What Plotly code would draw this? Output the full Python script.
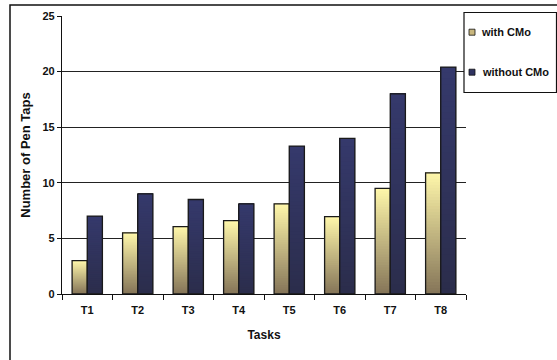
import plotly.graph_objects as go

tasks = ["T1", "T2", "T3", "T4", "T5", "T6", "T7", "T8"]
with_cmo = [3.0, 5.5, 6.05, 6.6, 8.1, 6.95, 9.5, 10.9]
without_cmo = [7.0, 9.0, 8.5, 8.1, 13.3, 14.0, 18.0, 20.4]
series_names = ["with CMo", "without CMo"]
y_ticks = [0, 5, 10, 15, 20, 25]

N = 40
FONT = "Liberation Sans, Arial, sans-serif"

# plot area in pixels
L, T, W, H = 62, 16, 404, 278
PW, PH = 557, 360


def px_x(p):
    return (p - L) / W


def px_y(p):
    return (T + H - p) / H


def lerp(c0, c1, t):
    return "rgb(%d,%d,%d)" % tuple(round(a + (b - a) * t) for a, b in zip(c0, c1))


grad = {
    "a": ((0x84, 0x74, 0x58), (0xFF, 0xF7, 0xAA)),
    "b": ((0x2B, 0x2D, 0x4B), (0x35, 0x39, 0x6C)),
}

fig = go.Figure()
for og, vals in (("a", with_cmo), ("b", without_cmo)):
    c0, c1 = grad[og]
    for k in range(N):
        # each layer runs from its base to the bar top; later layers cover upper part
        fig.add_trace(go.Bar(
            x=tasks, y=[v * (N - k) / N for v in vals], base=[v * k / N for v in vals],
            offsetgroup=og, marker=dict(color=lerp(c0, c1, (k + 0.5) / N), line=dict(width=0)),
            showlegend=False, hoverinfo="skip"))
    fig.add_trace(go.Bar(
        x=tasks, y=vals, offsetgroup=og,
        marker=dict(color="rgba(0,0,0,0)", line=dict(color="#1a1a1a", width=1.3)),
        showlegend=False))

# manual legend (box, swatches, labels)
legend_colors = ["#C9B77E", "#2F3260"]
legend_rows = [31.7, 71.7]
shapes = [
    dict(type="rect", xref="paper", yref="paper",
         x0=px_x(10), x1=px_x(562), y0=px_y(420), y1=px_y(5),
         line=dict(color="#111", width=1.5), fillcolor="rgba(0,0,0,0)", layer="below"),
    dict(type="rect", xref="paper", yref="paper",
         x0=px_x(464), x1=px_x(556.5), y0=px_y(92.5), y1=px_y(12.5),
         line=dict(color="#111", width=1.2), fillcolor="white", layer="above"),
]
annotations = []
for name, col, yy in zip(series_names, legend_colors, legend_rows):
    shapes.append(dict(type="rect", xref="paper", yref="paper",
                       x0=px_x(469), x1=px_x(475), y0=px_y(yy + 3.5), y1=px_y(yy - 2.5),
                       line=dict(color="#111", width=0.8), fillcolor=col, layer="above"))
    annotations.append(dict(text=name, xref="paper", yref="paper", x=px_x(479.5), y=px_y(yy),
                            xanchor="left", yanchor="middle", showarrow=False,
                            font=dict(family=FONT, size=11, color="#111", weight="bold")))

fig.update_layout(
    width=PW, height=PH,
    margin=dict(l=L, r=PW - L - W, t=T, b=PH - T - H, autoexpand=False),
    paper_bgcolor="white", plot_bgcolor="white",
    barmode="group", bargap=0.4, bargroupgap=0,
    font=dict(family=FONT, size=11, color="#111"),
    showlegend=False,
    xaxis=dict(
        showline=True, linecolor="#111", linewidth=1.3,
        ticks="outside", tickson="boundaries", ticklen=5, tickcolor="#111",
        ticklabelstandoff=6,
        tickfont=dict(family=FONT, size=11, weight="bold"),
        title=dict(text="Tasks", font=dict(family=FONT, size=12, weight="bold"), standoff=15),
    ),
    yaxis=dict(
        range=[0, 25], tickvals=y_ticks, showline=True, linecolor="#111", linewidth=1.3,
        ticks="outside", ticklen=4, tickcolor="#111",
        showgrid=True, gridcolor="#222", gridwidth=1.2, zeroline=False,
        tickfont=dict(family=FONT, size=11, weight="bold"),
        title=dict(text="Number of Pen Taps", font=dict(family=FONT, size=13, weight="bold"), standoff=8),
    ),
    shapes=shapes,
    annotations=annotations,
)

fig.write_html("out.html")
